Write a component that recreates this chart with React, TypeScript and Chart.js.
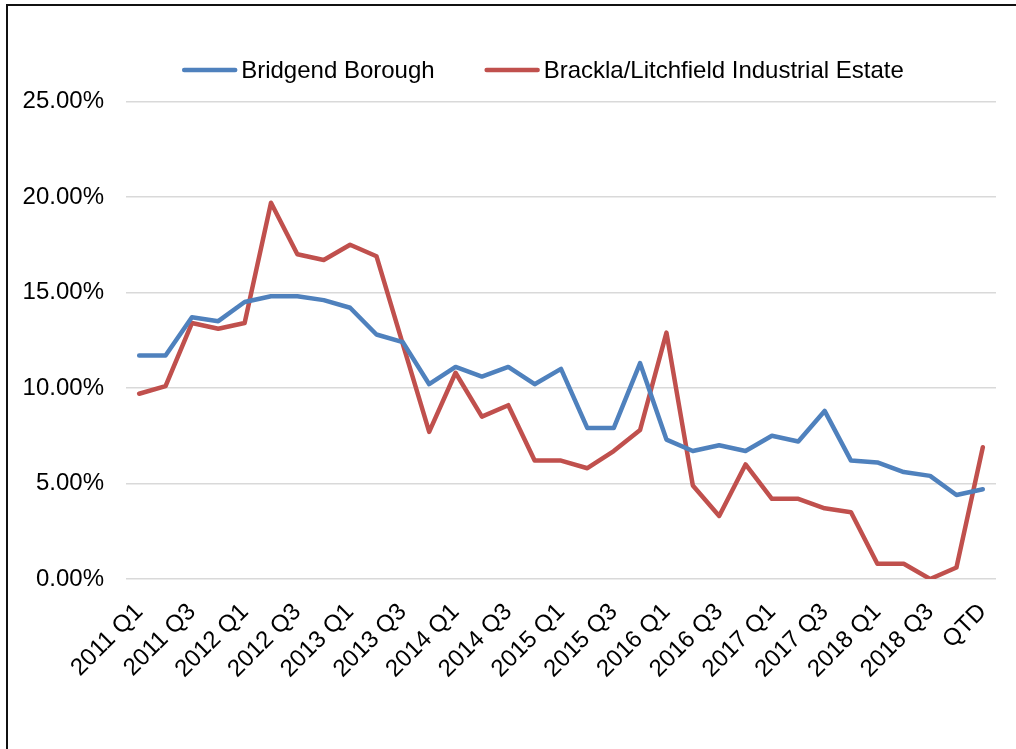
import React, { useEffect, useRef } from "react";
import { Chart, registerables } from "chart.js";

Chart.register(...registerables);

const categories: string[] = [
  "2011 Q1", "2011 Q2", "2011 Q3", "2011 Q4",
  "2012 Q1", "2012 Q2", "2012 Q3", "2012 Q4",
  "2013 Q1", "2013 Q2", "2013 Q3", "2013 Q4",
  "2014 Q1", "2014 Q2", "2014 Q3", "2014 Q4",
  "2015 Q1", "2015 Q2", "2015 Q3", "2015 Q4",
  "2016 Q1", "2016 Q2", "2016 Q3", "2016 Q4",
  "2017 Q1", "2017 Q2", "2017 Q3", "2017 Q4",
  "2018 Q1", "2018 Q2", "2018 Q3", "2018 Q4",
  "QTD",
];

const bridgendBorough: number[] = [
  11.7, 11.7, 13.7, 13.5, 14.5, 14.8, 14.8, 14.6, 14.2, 12.8, 12.4,
  10.2, 11.1, 10.6, 11.1, 10.2, 11.0, 7.9, 7.9, 11.3, 7.3, 6.7,
  7.0, 6.7, 7.5, 7.2, 8.8, 6.2, 6.1, 5.6, 5.4, 4.4, 4.7,
];

const bracklaLitchfield: number[] = [
  9.7, 10.1, 13.4, 13.1, 13.4, 19.7, 17.0, 16.7, 17.5, 16.9, 12.3,
  7.7, 10.8, 8.5, 9.1, 6.2, 6.2, 5.8, 6.7, 7.8, 12.9, 4.9,
  3.3, 6.0, 4.2, 4.2, 3.7, 3.5, 0.8, 0.8, 0.0, 0.6, 6.9,
];

const seriesNames: string[] = ["Bridgend Borough", "Brackla/Litchfield Industrial Estate"];
const yTicks: number[] = [0, 5, 10, 15, 20, 25];

const FONT = '"Liberation Sans", Arial, Helvetica, sans-serif';

const legendPlugin = {
  id: "excelLegend",
  afterDraw(chart: any) {
    const ctx = chart.ctx as CanvasRenderingContext2D;
    ctx.save();
    ctx.font = `24px ${FONT}`;
    const lineLen = 55;
    const gap = 4;
    const itemGap = 50;
    const centerX = 543;
    const lineY = 70;
    const items = chart.data.datasets.map((ds: any) => ({
      label: ds.label as string,
      color: ds.borderColor as string,
      w: ctx.measureText(ds.label).width,
    }));
    const total =
      items.reduce((s: number, it: any) => s + lineLen + gap + it.w, 0) +
      itemGap * (items.length - 1);
    let x = centerX - total / 2;
    for (const it of items) {
      ctx.beginPath();
      ctx.strokeStyle = it.color;
      ctx.lineWidth = 4.5;
      ctx.lineCap = "round";
      ctx.moveTo(x + 2, lineY);
      ctx.lineTo(x + lineLen - 2, lineY);
      ctx.stroke();
      x += lineLen + gap;
      ctx.fillStyle = "#000";
      ctx.textBaseline = "alphabetic";
      ctx.textAlign = "left";
      ctx.fillText(it.label, x, 78);
      x += it.w + itemGap;
    }
    ctx.restore();
  },
};

export default function App() {
  const canvasRef = useRef<HTMLCanvasElement | null>(null);

  useEffect(() => {
    if (!canvasRef.current) return;
    const chart = new Chart(canvasRef.current, {
      type: "line",
      data: {
        labels: categories,
        datasets: [
          {
            label: seriesNames[0],
            data: bridgendBorough,
            borderColor: "#4F81BD",
            backgroundColor: "#4F81BD",
            borderWidth: 4.5,
            pointRadius: 0,
            tension: 0,
            borderJoinStyle: "round",
            borderCapStyle: "round",
          },
          {
            label: seriesNames[1],
            data: bracklaLitchfield,
            borderColor: "#C0504D",
            backgroundColor: "#C0504D",
            borderWidth: 4.5,
            pointRadius: 0,
            tension: 0,
            borderJoinStyle: "round",
            borderCapStyle: "round",
          },
        ],
      },
      options: {
        responsive: false,
        animation: false,
        layout: { padding: { top: 101.5, right: 20, bottom: 0, left: 0 } },
        plugins: {
          legend: { display: false },
          tooltip: { enabled: false },
        },
        scales: {
          x: {
            offset: true,
            grid: { display: false },
            border: { display: false },
            ticks: {
              autoSkip: false,
              maxRotation: 45,
              minRotation: 45,
              padding: 11,
              color: "#000",
              font: { family: FONT, size: 24 },
              callback: (_v: any, i: number) => (i % 2 === 0 ? categories[i] : ""),
            },
            afterFit: (scale: any) => {
              scale.height = 170;
              scale.paddingRight = 0;
              scale.paddingLeft = 0;
            },
          },
          y: {
            min: yTicks[0],
            max: yTicks[yTicks.length - 1],
            border: { display: false },
            grid: { color: "#d9d9d9", lineWidth: 1.5, drawTicks: false },
            afterBuildTicks: (scale: any) => {
              scale.ticks = yTicks.map((v) => ({ value: v }));
            },
            ticks: {
              padding: 22,
              color: "#000",
              font: { family: FONT, size: 24 },
              callback: (v: any) => Number(v).toFixed(2) + "%",
            },
            afterFit: (scale: any) => {
              scale.width = 126;
            },
          },
        },
      },
      plugins: [legendPlugin],
    });
    return () => chart.destroy();
  }, []);

  return (
    <div>
      <div
        style={{
          position: "fixed",
          left: 6,
          top: 4,
          width: 1010,
          height: 745,
          borderLeft: "2px solid #111",
          borderTop: "2px solid #111",
          boxSizing: "border-box",
          background: "#fff",
        }}
      />
      <canvas
        ref={canvasRef}
        width={1016}
        height={749}
        style={{ position: "fixed", left: 0, top: 0, width: 1016, height: 749 }}
      />
    </div>
  );
}
